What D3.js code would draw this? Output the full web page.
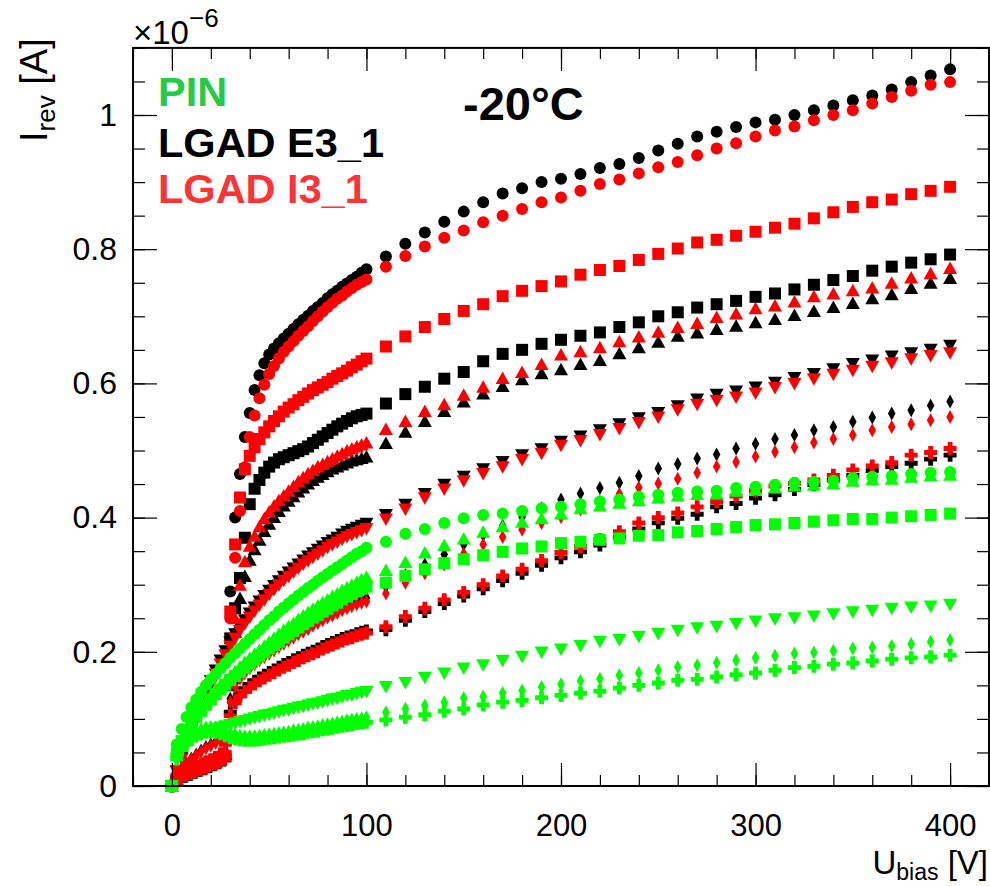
<!DOCTYPE html>
<html><head><meta charset="utf-8">
<script src="https://cdn.jsdelivr.net/npm/d3@7"></script>
<style>
body{margin:0;background:#fff;}
svg{display:block;}
text{font-family:"Liberation Sans",Arial,Helvetica,sans-serif;}
</style>
</head><body>
<svg id="c" width="990" height="886"></svg>
<script>
// ---------- DATA (current in units of 1e-6 A) ----------
const denseV = [0,2.5,5,7.5,10,12.5,15,17.5,20,22.5,25,27.5,30,32.5,35,37.5,40,42.5,45,47.5,50,52.5,55,57.5,60,62.5,65,67.5,70,72.5,75,77.5,80,82.5,85,87.5,90,92.5,95,97.5,100];
const tailV = [110,120,130,140,150,160,170,180,190,200,210,220,230,240,250,260,270,280,290,300,310,320,330,340,350,360,370,380,390,400];
const voltages = denseV.concat(tailV);

const xTickValues = [0,100,200,300,400];
const yTickValues = [0,0.2,0.4,0.6,0.8,1.0];
const yTickLabels = ["0","0.2","0.4","0.6","0.8","1"];
const legendLabels = ["PIN","LGAD E3_1","LGAD I3_1"];

// LGAD E3_1 (black)
const e3Circle = [0,0.013,0.017,0.020,0.023,0.026,0.028,0.031,0.034,0.037,0.041,0.047,0.29,0.40,0.465,0.52,0.556,0.59,0.612,0.63,0.643,0.652,0.66,0.667,0.674,0.681,0.688,0.695,0.701,0.708,0.714,0.72,0.727,0.733,0.738,0.744,0.749,0.754,0.759,0.765,0.770,
 0.789,0.808,0.825,0.841,0.856,0.870,0.883,0.891,0.900,0.905,0.912,0.921,0.927,0.936,0.947,0.957,0.968,0.975,0.982,0.989,0.993,1.000,1.007,1.014,1.022,1.029,1.038,1.049,1.059,1.068];
const e3Square = [0,0.010,0.014,0.017,0.020,0.023,0.025,0.028,0.031,0.034,0.038,0.044,0.22,0.265,0.31,0.37,0.42,0.443,0.456,0.467,0.476,0.482,0.487,0.490,0.493,0.496,0.499,0.502,0.506,0.511,0.516,0.521,0.526,0.531,0.536,0.540,0.544,0.548,0.551,0.553,0.555,
 0.570,0.584,0.595,0.607,0.617,0.633,0.644,0.650,0.659,0.665,0.671,0.676,0.684,0.691,0.700,0.706,0.713,0.718,0.723,0.729,0.734,0.740,0.747,0.754,0.760,0.768,0.774,0.780,0.785,0.792];
const e3TriUp = [0,0.010,0.014,0.017,0.020,0.023,0.026,0.029,0.032,0.036,0.041,0.048,0.15,0.23,0.28,0.313,0.337,0.353,0.367,0.380,0.391,0.401,0.410,0.418,0.425,0.432,0.439,0.445,0.451,0.456,0.461,0.465,0.469,0.473,0.476,0.479,0.482,0.485,0.487,0.489,0.491,
 0.511,0.528,0.544,0.559,0.573,0.585,0.596,0.606,0.615,0.621,0.629,0.635,0.645,0.654,0.662,0.671,0.676,0.681,0.686,0.691,0.696,0.702,0.708,0.714,0.720,0.727,0.733,0.742,0.750,0.757];
const e3TriDown = [0,0.022,0.042,0.063,0.083,0.103,0.121,0.139,0.156,0.172,0.187,0.201,0.214,0.226,0.237,0.247,0.257,0.266,0.275,0.283,0.291,0.298,0.305,0.312,0.318,0.324,0.330,0.336,0.342,0.347,0.352,0.357,0.362,0.366,0.370,0.375,0.379,0.382,0.385,0.388,0.391,
 0.404,0.419,0.435,0.449,0.461,0.472,0.483,0.493,0.502,0.513,0.521,0.530,0.539,0.548,0.556,0.566,0.576,0.583,0.588,0.594,0.601,0.608,0.614,0.621,0.629,0.634,0.640,0.645,0.650,0.656];
const e3Diamond = [0,0.019,0.027,0.034,0.041,0.047,0.053,0.058,0.062,0.066,0.070,0.082,0.13,0.153,0.165,0.173,0.18,0.186,0.192,0.197,0.202,0.207,0.212,0.217,0.222,0.226,0.231,0.235,0.239,0.244,0.248,0.252,0.256,0.259,0.263,0.267,0.270,0.273,0.276,0.278,0.280,
 0.297,0.314,0.330,0.345,0.360,0.374,0.388,0.401,0.414,0.427,0.436,0.444,0.452,0.462,0.473,0.480,0.488,0.494,0.503,0.510,0.517,0.523,0.530,0.535,0.543,0.549,0.555,0.560,0.567,0.573];
const e3Cross = [0,0.013,0.018,0.022,0.026,0.029,0.032,0.035,0.038,0.042,0.047,0.066,0.11,0.128,0.138,0.145,0.151,0.156,0.161,0.165,0.169,0.173,0.177,0.181,0.184,0.188,0.191,0.195,0.198,0.201,0.204,0.208,0.211,0.214,0.217,0.220,0.222,0.224,0.227,0.229,0.231,
 0.233,0.247,0.260,0.272,0.283,0.294,0.306,0.317,0.329,0.340,0.349,0.359,0.371,0.383,0.392,0.399,0.405,0.416,0.421,0.429,0.434,0.442,0.449,0.456,0.463,0.470,0.476,0.481,0.487,0.493];

// LGAD I3_1 (red)
const i3Circle = [0,0.012,0.016,0.019,0.022,0.025,0.027,0.030,0.033,0.036,0.040,0.046,0.25,0.34,0.41,0.475,0.52,0.552,0.578,0.598,0.614,0.626,0.637,0.647,0.655,0.663,0.671,0.678,0.685,0.693,0.70,0.707,0.714,0.72,0.726,0.731,0.737,0.742,0.747,0.751,0.755,
 0.774,0.790,0.804,0.817,0.828,0.840,0.850,0.860,0.870,0.877,0.887,0.897,0.904,0.913,0.922,0.930,0.940,0.950,0.958,0.968,0.977,0.983,0.992,1.000,1.007,1.017,1.027,1.036,1.045,1.049];
const i3Square = [0,0.011,0.015,0.018,0.021,0.024,0.026,0.029,0.032,0.035,0.039,0.045,0.26,0.36,0.43,0.472,0.492,0.505,0.517,0.527,0.536,0.544,0.551,0.558,0.564,0.569,0.575,0.580,0.585,0.590,0.594,0.598,0.602,0.607,0.611,0.615,0.619,0.624,0.628,0.633,0.637,
 0.655,0.670,0.684,0.696,0.708,0.718,0.730,0.738,0.745,0.752,0.762,0.769,0.775,0.784,0.793,0.801,0.810,0.814,0.820,0.826,0.832,0.838,0.846,0.855,0.863,0.870,0.874,0.882,0.887,0.893];
const i3TriUp = [0,0.011,0.015,0.018,0.021,0.024,0.027,0.030,0.033,0.037,0.042,0.05,0.16,0.25,0.30,0.335,0.358,0.373,0.387,0.399,0.409,0.418,0.426,0.433,0.440,0.447,0.454,0.460,0.466,0.471,0.476,0.480,0.484,0.488,0.492,0.496,0.500,0.503,0.506,0.509,0.512,
 0.532,0.544,0.559,0.569,0.583,0.595,0.608,0.617,0.629,0.643,0.648,0.654,0.663,0.670,0.677,0.684,0.690,0.699,0.704,0.712,0.716,0.722,0.730,0.734,0.739,0.743,0.750,0.758,0.764,0.772];
const i3TriDown = [0,0.021,0.040,0.060,0.079,0.098,0.116,0.133,0.150,0.166,0.181,0.195,0.208,0.220,0.231,0.241,0.251,0.260,0.269,0.277,0.285,0.292,0.299,0.306,0.312,0.318,0.324,0.330,0.335,0.340,0.345,0.350,0.355,0.359,0.363,0.367,0.371,0.374,0.377,0.380,0.383,
 0.397,0.412,0.429,0.442,0.454,0.465,0.475,0.486,0.495,0.507,0.514,0.523,0.532,0.541,0.549,0.560,0.568,0.574,0.579,0.585,0.593,0.599,0.606,0.613,0.619,0.625,0.630,0.636,0.641,0.645];
const i3Diamond = [0,0.018,0.026,0.033,0.040,0.046,0.051,0.056,0.060,0.064,0.068,0.078,0.125,0.148,0.160,0.168,0.175,0.181,0.187,0.192,0.197,0.202,0.207,0.212,0.217,0.221,0.226,0.230,0.234,0.239,0.243,0.247,0.251,0.254,0.258,0.262,0.265,0.268,0.271,0.273,0.275,
 0.287,0.303,0.317,0.330,0.346,0.360,0.371,0.382,0.392,0.401,0.412,0.424,0.435,0.445,0.451,0.458,0.467,0.476,0.483,0.491,0.498,0.505,0.512,0.517,0.523,0.530,0.535,0.539,0.545,0.550];
const i3Cross = [0,0.014,0.019,0.023,0.027,0.030,0.033,0.036,0.039,0.043,0.048,0.062,0.105,0.124,0.134,0.141,0.147,0.152,0.157,0.161,0.165,0.169,0.173,0.177,0.180,0.184,0.187,0.191,0.194,0.197,0.200,0.204,0.207,0.210,0.213,0.216,0.219,0.221,0.224,0.226,0.228,
 0.2375,0.2525,0.265,0.2775,0.2885,0.300,0.313,0.323,0.336,0.348,0.357,0.367,0.379,0.392,0.400,0.407,0.416,0.424,0.432,0.440,0.447,0.451,0.456,0.463,0.471,0.477,0.482,0.493,0.497,0.503];

// PIN (green)
const pinCircle = [0,0.062,0.085,0.103,0.117,0.129,0.140,0.150,0.159,0.167,0.175,0.183,0.191,0.198,0.205,0.212,0.219,0.226,0.233,0.240,0.247,0.253,0.260,0.266,0.272,0.278,0.284,0.289,0.295,0.300,0.306,0.311,0.316,0.321,0.326,0.331,0.336,0.341,0.346,0.350,0.355,
 0.364,0.376,0.383,0.392,0.399,0.404,0.406,0.410,0.414,0.416,0.420,0.424,0.427,0.431,0.434,0.437,0.439,0.440,0.444,0.446,0.449,0.452,0.453,0.455,0.459,0.461,0.462,0.465,0.467,0.468];
const pinSquare = [0,0.048,0.067,0.081,0.093,0.103,0.112,0.121,0.129,0.137,0.144,0.151,0.158,0.164,0.170,0.176,0.182,0.188,0.194,0.199,0.205,0.210,0.215,0.221,0.226,0.231,0.236,0.241,0.246,0.251,0.255,0.260,0.264,0.269,0.273,0.278,0.282,0.286,0.290,0.294,0.297,
 0.303,0.313,0.323,0.332,0.338,0.344,0.349,0.354,0.357,0.362,0.364,0.367,0.369,0.373,0.374,0.378,0.380,0.383,0.386,0.389,0.390,0.392,0.394,0.396,0.398,0.398,0.400,0.402,0.404,0.406];
const pinTriUp = [0,0.052,0.072,0.087,0.099,0.109,0.118,0.127,0.135,0.143,0.150,0.157,0.164,0.171,0.178,0.185,0.191,0.197,0.203,0.209,0.215,0.221,0.227,0.233,0.238,0.243,0.249,0.254,0.259,0.264,0.269,0.274,0.278,0.283,0.287,0.292,0.296,0.300,0.304,0.308,0.312,
 0.322,0.334,0.348,0.359,0.369,0.379,0.387,0.394,0.399,0.406,0.414,0.418,0.422,0.426,0.430,0.433,0.435,0.436,0.440,0.442,0.445,0.448,0.449,0.451,0.455,0.457,0.458,0.461,0.463,0.464];
const pinTriDown = [0,0.040,0.054,0.063,0.069,0.073,0.077,0.080,0.082,0.085,0.087,0.089,0.091,0.093,0.095,0.097,0.099,0.101,0.103,0.105,0.106,0.108,0.110,0.112,0.113,0.115,0.117,0.118,0.120,0.122,0.123,0.125,0.127,0.129,0.130,0.132,0.134,0.135,0.137,0.139,0.140,
 0.1475,0.1535,0.1615,0.1675,0.175,0.180,0.1865,0.1925,0.199,0.2035,0.2085,0.215,0.2175,0.2225,0.2265,0.2315,0.235,0.2375,0.2415,0.245,0.2485,0.250,0.2525,0.256,0.259,0.261,0.264,0.266,0.2675,0.270];
const pinDiamond = [0,0.045,0.060,0.070,0.077,0.082,0.085,0.087,0.088,0.087,0.085,0.082,0.079,0.077,0.075,0.074,0.074,0.074,0.075,0.076,0.077,0.078,0.079,0.080,0.081,0.083,0.084,0.085,0.087,0.088,0.089,0.091,0.092,0.093,0.095,0.096,0.098,0.099,0.100,0.101,0.1025,
 0.110,0.115,0.120,0.125,0.131,0.1335,0.1385,0.1425,0.1475,0.1515,0.1565,0.160,0.165,0.1685,0.1725,0.1775,0.180,0.1835,0.1875,0.191,0.194,0.1975,0.199,0.2015,0.205,0.2065,0.2085,0.2115,0.215,0.2175];
const pinCross = [0,0.040,0.054,0.063,0.070,0.075,0.078,0.080,0.081,0.080,0.078,0.075,0.072,0.070,0.069,0.068,0.068,0.068,0.069,0.070,0.071,0.072,0.073,0.074,0.075,0.076,0.077,0.078,0.080,0.081,0.082,0.084,0.085,0.086,0.088,0.089,0.090,0.091,0.093,0.094,0.095,
 0.0985,0.1025,0.1065,0.1115,0.115,0.121,0.125,0.1275,0.1315,0.135,0.1385,0.1415,0.146,0.150,0.1535,0.1575,0.159,0.1625,0.166,0.1685,0.1725,0.1765,0.1785,0.1815,0.1835,0.1865,0.189,0.191,0.1925,0.195];

// ---------- STYLE ----------
const colBlack = "#000000", colRed = "#ff0000", colGreen = "#00ff00";
const legendColors = ["#22cc44", "#000000", "#ff3333"];

// ROOT-like marker shapes as d3 symbol types
const mk = {
  circle:  { draw(c){ c.moveTo(6,0); c.arc(0,0,6,0,2*Math.PI); c.closePath(); } },
  square:  { draw(c){ c.moveTo(-6,-6); c.lineTo(6,-6); c.lineTo(6,6); c.lineTo(-6,6); c.closePath(); } },
  triUp:   { draw(c){ c.moveTo(0,-6.5); c.lineTo(7,6); c.lineTo(-7,6); c.closePath(); } },
  triDown: { draw(c){ c.moveTo(0,6.5); c.lineTo(7,-6); c.lineTo(-7,-6); c.closePath(); } },
  diamond: { draw(c){ c.moveTo(0,-7); c.lineTo(3.8,0); c.lineTo(0,7); c.lineTo(-3.8,0); c.closePath(); } },
  cross:   { draw(c){ const a=6.5,t=2.4; c.moveTo(-t,-a); c.lineTo(t,-a); c.lineTo(t,-t); c.lineTo(a,-t); c.lineTo(a,t); c.lineTo(t,t); c.lineTo(t,a); c.lineTo(-t,a); c.lineTo(-t,t); c.lineTo(-a,t); c.lineTo(-a,-t); c.lineTo(-t,-t); c.closePath(); } }
};

const series = [
  {c:colBlack, s:"circle", v:e3Circle},{c:colBlack, s:"square", v:e3Square},{c:colBlack, s:"triUp", v:e3TriUp},
  {c:colBlack, s:"triDown", v:e3TriDown},{c:colBlack, s:"diamond", v:e3Diamond},{c:colBlack, s:"cross", v:e3Cross},
  {c:colRed, s:"circle", v:i3Circle},{c:colRed, s:"square", v:i3Square},{c:colRed, s:"triUp", v:i3TriUp},
  {c:colRed, s:"triDown", v:i3TriDown},{c:colRed, s:"diamond", v:i3Diamond},{c:colRed, s:"cross", v:i3Cross},
  {c:colGreen, s:"circle", v:pinCircle},{c:colGreen, s:"square", v:pinSquare},{c:colGreen, s:"triUp", v:pinTriUp},
  {c:colGreen, s:"triDown", v:pinTriDown},{c:colGreen, s:"diamond", v:pinDiamond},{c:colGreen, s:"cross", v:pinCross}
];

// ---------- LAYOUT ----------
const L = 133, R = 989, T = 47.9, B = 786;
const x = d3.scaleLinear().domain([-20, 420]).range([L, R]);
const y = d3.scaleLinear().domain([0, 1.1]).range([B, T]);

const svg = d3.select("#c");

// data markers
const gData = svg.append("g");
series.forEach(sr => {
  const pts = sr.v.map((val,i) => ({u: voltages[i], i: val})).filter(d => d.u !== undefined);
  const sym = d3.symbol().type(mk[sr.s])();
  gData.append("g").selectAll("path").data(pts).join("path")
    .attr("transform", d => `translate(${x(d.u)},${y(d.i)})`)
    .attr("d", sym)
    .attr("fill", sr.c);
});

// axes (ticks inside, ROOT style)
function styleAxis(g){ g.select(".domain").remove(); g.selectAll("line").attr("stroke","#000").attr("stroke-width",1.2); }
const xMinor = d3.range(-20, 421, 20);
const yMinor = d3.range(0, 1.1001, 0.05);

svg.append("g").attr("transform",`translate(0,${B})`)
  .call(d3.axisBottom(x).tickValues(xMinor).tickSize(-11).tickFormat("")).call(styleAxis);
svg.append("g").attr("transform",`translate(0,${B})`)
  .call(d3.axisBottom(x).tickValues(xTickValues).tickSize(-23).tickPadding(28).tickFormat(d3.format("d")))
  .call(styleAxis)
  .call(g => g.selectAll("text").attr("font-size",31).attr("fill","#000"));
svg.append("g").attr("transform",`translate(0,${T})`)
  .call(d3.axisTop(x).tickValues(xMinor).tickSize(-11).tickFormat("")).call(styleAxis);
svg.append("g").attr("transform",`translate(0,${T})`)
  .call(d3.axisTop(x).tickValues(xTickValues).tickSize(-23).tickFormat("")).call(styleAxis);

svg.append("g").attr("transform",`translate(${L},0)`)
  .call(d3.axisLeft(y).tickValues(yMinor).tickSize(-12).tickFormat("")).call(styleAxis);
svg.append("g").attr("transform",`translate(${L},0)`)
  .call(d3.axisLeft(y).tickValues(yTickValues).tickSize(-24).tickPadding(16).tickFormat((d,i)=>yTickLabels[i]))
  .call(styleAxis)
  .call(g => g.selectAll("text").attr("font-size",32).attr("fill","#000"));
svg.append("g").attr("transform",`translate(${R},0)`)
  .call(d3.axisRight(y).tickValues(yMinor).tickSize(-12).tickFormat("")).call(styleAxis);
svg.append("g").attr("transform",`translate(${R},0)`)
  .call(d3.axisRight(y).tickValues(yTickValues).tickSize(-24).tickFormat("")).call(styleAxis);

// frame
svg.append("rect").attr("x",L).attr("y",T).attr("width",R-L).attr("height",B-T)
  .attr("fill","none").attr("stroke","#000").attr("stroke-width",2);

// exponent label
const ex = svg.append("text").attr("x",133).attr("y",44).attr("font-size",33).attr("fill","#000");
ex.append("tspan").text("\u00d710");
ex.append("tspan").attr("dy",-17).attr("font-size",26).text("\u22126");

// y title
const yt = svg.append("text").attr("transform","translate(47,142) rotate(-90)")
  .attr("text-anchor","start").attr("font-size",38).attr("fill","#000");
yt.append("tspan").text("I");
yt.append("tspan").attr("dy",8).attr("font-size",26).text("rev");
yt.append("tspan").attr("dy",-8).text(" [A]");

// x title
const xt = svg.append("text").attr("x",988).attr("y",874)
  .attr("text-anchor","end").attr("font-size",33).attr("fill","#000");
xt.append("tspan").text("U");
xt.append("tspan").attr("dy",6).attr("font-size",23).text("bias");
xt.append("tspan").attr("dy",-6).text(" [V]");

// legend
const legY = [106, 157, 203];
legendLabels.forEach((t,i) => {
  svg.append("text").attr("x",158).attr("y",legY[i]).attr("font-size",41.5)
    .attr("font-weight","bold").attr("fill",legendColors[i]).text(t);
});
// temperature
svg.append("text").attr("x",463).attr("y",120).attr("font-size",47)
  .attr("font-weight","bold").attr("fill","#000").text("-20\u00b0C");
</script>
</body></html>
